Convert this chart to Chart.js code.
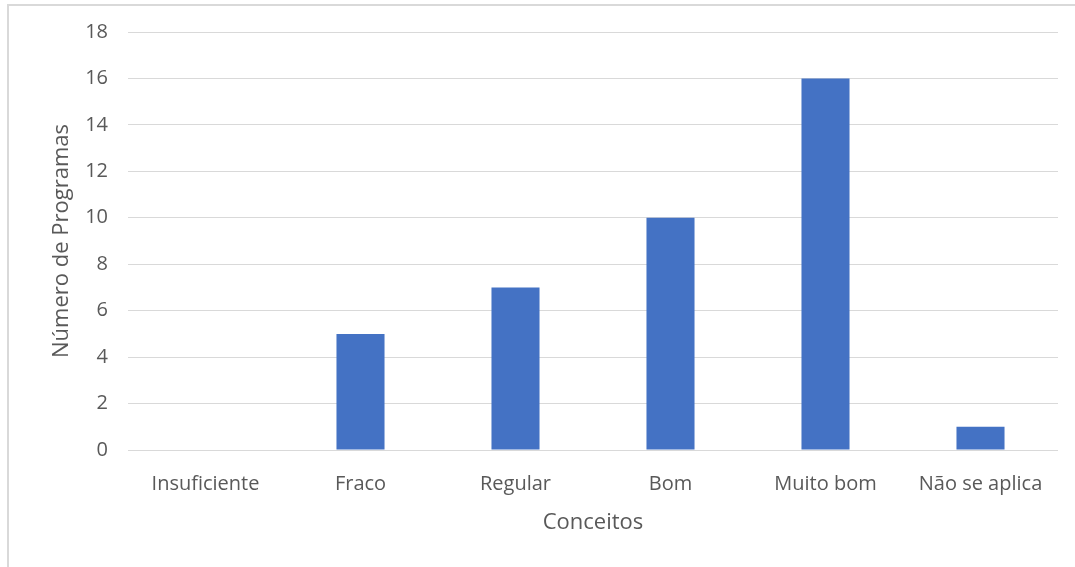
<!DOCTYPE html>
<html>
<head>
<meta charset="utf-8">
<script src="https://cdn.jsdelivr.net/npm/chart.js@4/dist/chart.umd.min.js"></script>
<style>
  html, body { margin: 0; padding: 0; background: #fff; }
  #wrap { position: absolute; left: 0; top: 0; width: 1075px; height: 567px; }
  #frame { position: absolute; left: 7px; top: 4px; width: 1080px; height: 600px;
           border-left: 2px solid #d9d9d9; border-top: 2px solid #d9d9d9; }
</style>
</head>
<body>
<div id="wrap">
  <div id="frame"></div>
  <canvas id="myChart" width="1075" height="567"></canvas>
</div>
<script>
const categories = ['Insuficiente', 'Fraco', 'Regular', 'Bom', 'Muito bom', 'Não se aplica'];
const programCounts = [0, 5, 7, 10, 16, 1];
const yTicks = [0, 2, 4, 6, 8, 10, 12, 14, 16, 18];

const textColor = '#595959';
const gridColor = '#d9d9d9';
const font = { family: 'Open Sans', size: 20 };
const titleFont = { family: 'Open Sans', size: 22 };

const ctx = document.getElementById('myChart').getContext('2d');
const myChart = new Chart(ctx, {
  type: 'bar',
  data: {
    labels: categories,
    datasets: [{
      label: 'Número de Programas',
      data: programCounts,
      backgroundColor: '#4472C4',
      borderWidth: 0,
      categoryPercentage: 1,
      barPercentage: 0.31
    }]
  },
  options: {
    responsive: false,
    animation: false,
    layout: { padding: { left: 45, right: 17, top: 31, bottom: 27 } },
    plugins: {
      legend: { display: false },
      tooltip: { enabled: false }
    },
    scales: {
      x: {
        grid: { display: false, drawTicks: false },
        border: { display: false },
        ticks: { color: textColor, font: font, padding: 22, maxRotation: 0 },
        title: { display: true, text: 'Conceitos', color: textColor, font: titleFont, padding: { top: 14 } },
        afterFit: (scale) => { scale.height = 90; }
      },
      y: {
        min: 0,
        max: 18,
        afterBuildTicks: (scale) => { scale.ticks = yTicks.map(v => ({ value: v })); },
        grid: { color: gridColor, lineWidth: 1, drawTicks: false },
        border: { display: false },
        ticks: { color: textColor, font: font, padding: 20 },
        title: { display: true, text: 'Número de Programas', color: textColor, font: titleFont, padding: { bottom: 20 } },
        afterFit: (scale) => { scale.width = 83; }
      }
    }
  }
});
</script>
</body>
</html>
